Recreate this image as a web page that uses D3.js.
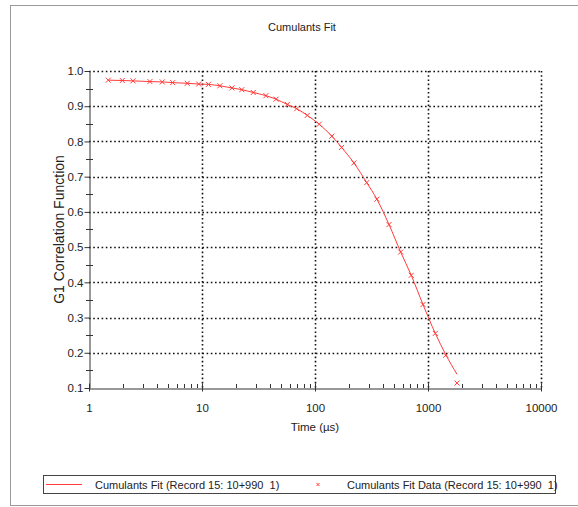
<!DOCTYPE html>
<html>
<head>
<meta charset="utf-8">
<script src="https://cdn.jsdelivr.net/npm/d3@7"></script>
<style>
  body { margin: 0; background: #fff; overflow: hidden; }
  text { font-family: "Liberation Sans", Arial, sans-serif; fill: #222; white-space: pre; }
</style>
</head>
<body>
<svg id="chart" width="578" height="507"></svg>
<script>
// data
const lagTimes = [1.48, 1.97, 2.45, 3.46, 4.45, 5.5, 7.4, 9.35, 11.4, 14.4, 18.4, 22.5, 28.4, 36.8, 45.2,
  56.9, 68.9, 85.5, 109, 141, 172, 221, 287, 353, 452, 573, 711, 903, 1161, 1435, 1806];
const g1Data = [0.974, 0.973, 0.972, 0.970, 0.969, 0.967, 0.965, 0.963, 0.962, 0.958, 0.952, 0.947, 0.939,
  0.930, 0.920, 0.905, 0.893, 0.874, 0.849, 0.815, 0.783, 0.739, 0.683, 0.636, 0.564, 0.486, 0.420, 0.337,
  0.255, 0.193, 0.114];
const g1Fit = [0.974, 0.973, 0.972, 0.970, 0.969, 0.967, 0.965, 0.963, 0.962, 0.958, 0.952, 0.947, 0.939,
  0.930, 0.920, 0.905, 0.893, 0.874, 0.849, 0.815, 0.783, 0.739, 0.683, 0.636, 0.564, 0.486, 0.420, 0.337,
  0.255, 0.195, 0.139];
const xTicks = [1, 10, 100, 1000, 10000];
const yTicks = [0.1, 0.2, 0.3, 0.4, 0.5, 0.6, 0.7, 0.8, 0.9, 1.0];
const fitLabel = "Cumulants Fit (Record 15: 10+990  1)";
const dataLabel = "Cumulants Fit Data (Record 15: 10+990  1)";

const svg = d3.select("#chart");
const red = "#ff3b3b";
const font = "Liberation Sans, Arial, sans-serif";

const x = d3.scaleLog().domain([1, 10000]).range([89, 541]);
const y = d3.scaleLinear().domain([0.1, 1]).range([388, 71]);

// outer frame
svg.append("rect")
  .attr("x", 10.5).attr("y", 5.5).attr("width", 600).attr("height", 500)
  .attr("fill", "none").attr("stroke", "#9a9a9a");

svg.append("text")
  .attr("x", 302).attr("y", 31)
  .attr("text-anchor", "middle").style("font-size", "11px")
  .text("Cumulants Fit");

// dotted grid
const grid = svg.append("g")
  .attr("stroke", "#111").attr("stroke-width", 1.6).attr("stroke-dasharray", "1.6,2.6");
grid.selectAll("line.h")
  .data(yTicks.filter((d) => d > 0.1))
  .enter().append("line")
  .attr("x1", x(1)).attr("x2", x(10000))
  .attr("y1", (d) => Math.round(y(d)) + 0.5).attr("y2", (d) => Math.round(y(d)) + 0.5);
grid.selectAll("line.v")
  .data(xTicks.filter((d) => d > 1))
  .enter().append("line")
  .attr("y1", y(1)).attr("y2", y(0.1))
  .attr("x1", (d) => Math.round(x(d)) + 0.5).attr("x2", (d) => Math.round(x(d)) + 0.5);

// y axis
const yAxis = svg.append("g")
  .attr("transform", "translate(89.5,0)")
  .call(d3.axisLeft(y).tickValues(yTicks).tickFormat(d3.format(".1f")).tickSizeInner(5).tickSizeOuter(0).tickPadding(1));
yAxis.select(".domain").attr("stroke", "#333");
yAxis.selectAll(".tick line").attr("stroke", "#333");
yAxis.selectAll(".tick text").style("font-size", "11.5px").style("font-family", font).attr("fill", "#222");

const yMinor = d3.range(0.15, 1.0, 0.1);
svg.append("g").selectAll("line")
  .data(yMinor)
  .enter().append("line")
  .attr("x1", 86).attr("x2", 93)
  .attr("y1", (d) => Math.round(y(d)) + 0.5).attr("y2", (d) => Math.round(y(d)) + 0.5)
  .attr("stroke", "#333");

// x axis
const xAxis = svg.append("g")
  .attr("transform", "translate(0,388.5)")
  .call(d3.axisBottom(x).tickValues(xTicks).tickFormat(d3.format("d")).tickSizeOuter(0).tickPadding(9));
xAxis.select(".domain").attr("stroke", "#333");
xAxis.selectAll(".tick line").attr("y1", -5).attr("y2", 3).attr("stroke", "#333");
xAxis.selectAll(".tick text").style("font-size", "11.5px").style("font-family", font).attr("fill", "#222");

const xMinor = [];
[1, 10, 100, 1000].forEach((dec) => d3.range(2, 10).forEach((m) => xMinor.push(dec * m)));
svg.append("g").selectAll("line")
  .data(xMinor)
  .enter().append("line")
  .attr("x1", (d) => Math.round(x(d)) + 0.5).attr("x2", (d) => Math.round(x(d)) + 0.5)
  .attr("y1", 384).attr("y2", 388)
  .attr("stroke", "#333");

// axis titles
svg.append("text")
  .attr("transform", `translate(64,${(y(1) + y(0.1)) / 2}) rotate(-90)`)
  .attr("text-anchor", "middle").style("font-size", "14px")
  .text("G1 Correlation Function");
svg.append("text")
  .attr("x", (x(1) + x(10000)) / 2).attr("y", 431)
  .attr("text-anchor", "middle").style("font-size", "11.5px")
  .text("Time (µs)");

// fit line
const fitPts = lagTimes.map((t, i) => [t, g1Fit[i]]);
svg.append("path")
  .datum(fitPts)
  .attr("fill", "none").attr("stroke", red).attr("stroke-width", 1)
  .attr("d", d3.line().curve(d3.curveMonotoneX).x((d) => x(d[0])).y((d) => y(d[1])));

// data markers
const cross = (sel, s) => sel.append("path")
  .attr("d", `M${-s},${-s}L${s},${s}M${-s},${s}L${s},${-s}`)
  .attr("stroke", red).attr("stroke-width", 1).attr("fill", "none");
const dataPts = lagTimes.map((t, i) => [t, g1Data[i]]);
svg.append("g").selectAll("g")
  .data(dataPts)
  .enter().append("g")
  .attr("transform", (d) => `translate(${x(d[0])},${y(d[1])})`)
  .call((g) => cross(g, 2.5));

// legend
const legend = svg.append("g");
legend.append("rect")
  .attr("x", 43.5).attr("y", 475.5).attr("width", 512).attr("height", 18)
  .attr("fill", "#fff").attr("stroke", "#444");
legend.append("line")
  .attr("x1", 46).attr("x2", 82).attr("y1", 484.5).attr("y2", 484.5)
  .attr("stroke", red);
legend.append("text")
  .attr("x", 95).attr("y", 489).style("font-size", "11px")
  .text(fitLabel);
legend.append("g")
  .attr("transform", "translate(318,484.5)")
  .call((g) => cross(g, 1.5));
legend.append("text")
  .attr("x", 347).attr("y", 489).style("font-size", "11px")
  .text(dataLabel);
</script>
</body>
</html>
